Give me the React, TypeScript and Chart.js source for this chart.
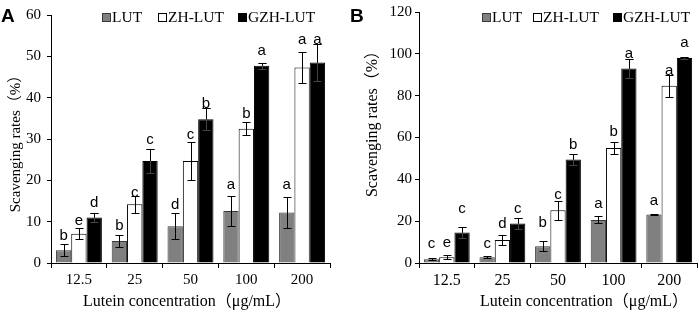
import React, { useEffect, useRef } from "react";
import { Chart, registerables } from "chart.js";

Chart.register(...registerables);

// ---------- DATA ----------
const categories = ["12.5", "25", "50", "100", "200"];
const seriesNames = ["LUT", "ZH-LUT", "GZH-LUT"];

// Panel A
const yTicksA = [0, 10, 20, 30, 40, 50, 60];
const lutA = [3.1, 5.3, 8.9, 12.6, 12.2];
const lutErrA = [1.4, 1.4, 3.2, 3.6, 3.7];
const zhA = [7.1, 14.2, 24.7, 32.5, 47.3];
const zhErrA = [1.4, 2.0, 4.6, 1.5, 3.8];
const gzhA = [11.0, 24.7, 34.8, 47.7, 48.5];
const gzhErrA = [1.0, 2.9, 2.7, 0.8, 4.4];
const lutLettersA = ["b", "b", "d", "a", "a"];
const zhLettersA = ["e", "c", "c", "b", "a"];
const gzhLettersA = ["d", "c", "b", "a", "a"];
const lutLetterPosA = [5.6, 7.9, 13.0, 17.8, 17.8];
const zhLetterPosA = [9.3, 16.0, 30.1, 35.2, 53.1];
const gzhLetterPosA = [13.6, 28.9, 37.6, 50.3, 53.1];

// Panel B
const yTicksB = [0, 20, 40, 60, 80, 100, 120];
const lutB = [1.8, 2.8, 8.0, 20.6, 23.2];
const lutErrB = [0.4, 0.5, 2.4, 1.7, 0.2];
const zhB = [2.8, 11.0, 25.2, 55.0, 84.7];
const zhErrB = [1.0, 2.5, 4.6, 2.7, 5.2];
const gzhB = [14.6, 18.9, 49.5, 93.0, 98.0];
const gzhErrB = [2.6, 2.8, 2.6, 4.7, 0.4];
const lutLettersB = ["c", "c", "b", "a", "a"];
const zhLettersB = ["e", "d", "c", "b", "a"];
const gzhLettersB = ["c", "c", "b", "a", "a"];
const lutLetterPosB = [7.0, 7.0, 17.3, 26.1, 27.6];
const zhLetterPosB = [7.8, 16.7, 30.8, 60.7, 89.9];
const gzhLetterPosB = [23.7, 23.7, 54.3, 97.8, 103.3];

const xTitle = "Lutein concentration（μg/mL）";
const yTitle = "Scavenging rates（%）";

// ---------- STYLE ----------
const SERIF = '"Liberation Serif", "Times New Roman", "Noto Sans CJK SC", serif';
const SANS = '"Liberation Sans", Arial, sans-serif';
const fills = ["#808080", "#ffffff", "#000000"];
const borders = ["#3a3a3a", "#000000", "#000000"];

type PanelCfg = {
  panel: string;
  width: number;
  yMax: number;
  yTicks: number[];
  values: number[][];
  errors: number[][];
  letters: string[][];
  letterPos: number[][];
  padding: { left: number; right: number; top: number; bottom: number };
  yAxisWidth: number;
  yTickPadding: number;
  xTickSize: number;
  legendX: number[];
  yTitleX: number;
  yTitleY: number;
  yTitleSize: number;
  xTitleX: number;
  panelX: number;
};

function makeOverlay(cfg: PanelCfg) {
  return {
    id: "overlay" + cfg.panel,
    afterDatasetsDraw(chart: any) {
      const ctx = chart.ctx;
      const yScale = chart.scales.y;
      ctx.save();
      chart.data.datasets.forEach((ds: any, i: number) => {
        const meta = chart.getDatasetMeta(i);
        meta.data.forEach((el: any, j: number) => {
          const v = cfg.values[i][j];
          const e = cfg.errors[i][j];
          const x = Math.round(el.x) + 0.5;
          const yt = Math.round(yScale.getPixelForValue(v + e)) + 0.5;
          const yb = Math.round(yScale.getPixelForValue(Math.max(0, v - e))) + 0.5;
          ctx.strokeStyle = i === 2 ? "#444" : "#000";
          ctx.lineWidth = 1;
          ctx.beginPath();
          ctx.moveTo(x, yt);
          ctx.lineTo(x, yb);
          ctx.moveTo(x - 4, yt);
          ctx.lineTo(x + 4, yt);
          ctx.moveTo(x - 4, yb);
          ctx.lineTo(x + 4, yb);
          ctx.stroke();
          if (i === 2) {
            const barTop = yScale.getPixelForValue(v);
            ctx.strokeStyle = "#000";
            ctx.beginPath();
            ctx.moveTo(x, yt);
            ctx.lineTo(x, barTop);
            ctx.moveTo(x - 4, yt);
            ctx.lineTo(x + 4, yt);
            ctx.stroke();
          }
          ctx.fillStyle = "#000";
          ctx.font = `15px ${SANS}`;
          ctx.textAlign = "center";
          ctx.textBaseline = "alphabetic";
          ctx.fillText(cfg.letters[i][j], el.x, yScale.getPixelForValue(cfg.letterPos[i][j]));
        });
      });
      ctx.restore();
    },
    afterDraw(chart: any) {
      const ctx = chart.ctx;
      ctx.save();
      ctx.fillStyle = "#000";
      ctx.font = `bold 19px ${SANS}`;
      ctx.textAlign = "left";
      ctx.textBaseline = "alphabetic";
      ctx.fillText(cfg.panel, cfg.panelX, 22);
      seriesNames.forEach((name, i) => {
        const bx = cfg.legendX[i];
        ctx.fillStyle = fills[i];
        ctx.fillRect(bx, 13, 9, 9);
        ctx.strokeStyle = borders[i];
        ctx.lineWidth = 1;
        ctx.strokeRect(bx + 0.5, 13.5, 8, 8);
        ctx.fillStyle = "#000";
        ctx.font = `15.5px ${SERIF}`;
        ctx.textAlign = "left";
        ctx.fillText(name, bx + 10, 22);
      });
      ctx.font = `16px ${SERIF}`;
      ctx.textAlign = "center";
      ctx.textBaseline = "middle";
      ctx.fillText(xTitle, cfg.xTitleX, 302);
      ctx.translate(cfg.yTitleX, cfg.yTitleY);
      ctx.rotate(-Math.PI / 2);
      ctx.font = `${cfg.yTitleSize}px ${SERIF}`;
      ctx.fillText(yTitle, 0, 0);
      ctx.restore();
    },
  };
}

function buildChart(canvas: HTMLCanvasElement, cfg: PanelCfg) {
  return new Chart(canvas, {
    type: "bar",
    data: {
      labels: categories,
      datasets: seriesNames.map((name, i) => ({
        label: name,
        data: cfg.values[i],
        backgroundColor: fills[i],
        borderColor: borders[i],
        borderWidth: 1,
      })),
    },
    options: {
      animation: false,
      responsive: false,
      devicePixelRatio: 1,
      layout: { padding: cfg.padding },
      datasets: { bar: { categoryPercentage: 0.824, barPercentage: 1 } },
      plugins: { legend: { display: false }, tooltip: { enabled: false } },
      scales: {
        x: {
          grid: {
            display: true,
            drawOnChartArea: false,
            drawTicks: true,
            tickLength: 5,
            color: "#000",
            offset: true,
          },
          border: { display: true, color: "#000", width: 1 },
          ticks: { font: { family: SERIF, size: cfg.xTickSize }, color: "#000", padding: 3, maxRotation: 0 },
          afterFit: (s: any) => {
            s.height = 50;
          },
        },
        y: {
          min: 0,
          max: cfg.yMax,
          grid: { display: true, drawOnChartArea: false, drawTicks: true, tickLength: 4, color: "#000" },
          border: { display: true, color: "#000", width: 1 },
          ticks: { font: { family: SERIF, size: 15 }, color: "#000", padding: cfg.yTickPadding },
          afterBuildTicks: (s: any) => {
            s.ticks = cfg.yTicks.map((v) => ({ value: v }));
          },
          afterFit: (s: any) => {
            s.width = cfg.yAxisWidth;
          },
        },
      },
    } as any,
    plugins: [makeOverlay(cfg)],
  });
}

const cfgA: PanelCfg = {
  panel: "A",
  width: 350,
  yMax: 60,
  yTicks: yTicksA,
  values: [lutA, zhA, gzhA],
  errors: [lutErrA, zhErrA, gzhErrA],
  letters: [lutLettersA, zhLettersA, gzhLettersA],
  letterPos: [lutLetterPosA, zhLetterPosA, gzhLetterPosA],
  padding: { left: 0, right: 20, top: 11, bottom: 0 },
  yAxisWidth: 51,
  yTickPadding: 6,
  xTickSize: 15,
  legendX: [102, 158, 238],
  yTitleX: 16,
  yTitleY: 140,
  yTitleSize: 15,
  xTitleX: 187,
  panelX: 1,
};

const cfgB: PanelCfg = {
  panel: "B",
  width: 349,
  yMax: 120,
  yTicks: yTicksB,
  values: [lutB, zhB, gzhB],
  errors: [lutErrB, zhErrB, gzhErrB],
  letters: [lutLettersB, zhLettersB, gzhLettersB],
  letterPos: [lutLetterPosB, zhLetterPosB, gzhLetterPosB],
  padding: { left: 0, right: 2, top: 8, bottom: 0 },
  yAxisWidth: 69,
  yTickPadding: 3,
  xTickSize: 16,
  legendX: [132, 183, 263],
  yTitleX: 23,
  yTitleY: 120,
  yTitleSize: 16,
  xTitleX: 234,
  panelX: 0,
};

function Panel({ cfg, left }: { cfg: PanelCfg; left: number }) {
  const ref = useRef<HTMLCanvasElement | null>(null);
  useEffect(() => {
    if (!ref.current) return;
    const chart = buildChart(ref.current, cfg);
    return () => chart.destroy();
  }, [cfg]);
  return (
    <canvas
      ref={ref}
      width={cfg.width}
      height={313}
      style={{ position: "absolute", left, top: 0, width: cfg.width, height: 313 }}
    />
  );
}

export default function App() {
  return (
    <div style={{ position: "fixed", left: 0, top: 0, width: 699, height: 313, background: "#fff" }}>
      <Panel cfg={cfgA} left={0} />
      <Panel cfg={cfgB} left={350} />
    </div>
  );
}
